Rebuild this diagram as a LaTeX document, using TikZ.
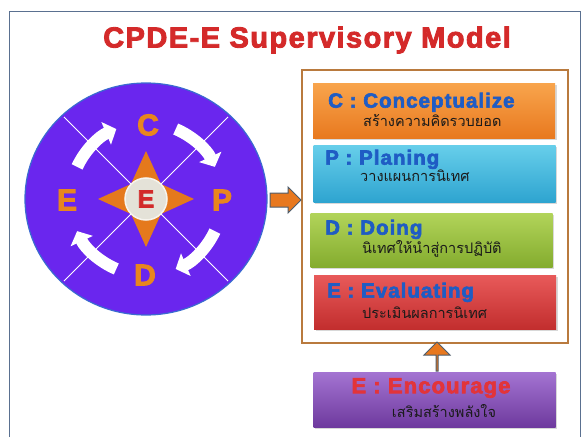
\documentclass[tikz,border=0pt]{standalone}
\usepackage{fontspec}
\setmainfont{Liberation Sans}
\newfontfamily\heavyfont[BoldFeatures={FakeBold=3}, LetterSpace=5]{Liberation Sans}
\newfontfamily\thaifont[Script=Thai]{Loma}
\usetikzlibrary{shapes.geometric,shapes.arrows,arrows.meta,shadows}
\definecolor{framec}{HTML}{5A7090}
\definecolor{titlered}{HTML}{D42A2A}
\definecolor{circfill}{HTML}{6A26EE}
\definecolor{circedge}{HTML}{3A6BD0}
\definecolor{starorange}{HTML}{E5791C}
\definecolor{letterorange}{HTML}{E8861E}
\definecolor{diskfill}{HTML}{E4E2D8}
\definecolor{diskedge}{HTML}{F6F4EE}
\definecolor{ered}{HTML}{D22A2A}
\definecolor{arroworange}{HTML}{E8781E}
\definecolor{arrowgray}{HTML}{4E5D6C}
\definecolor{contc}{HTML}{B97A3E}
\definecolor{ctop}{HTML}{F8A44C}\definecolor{cbot}{HTML}{E8781E}
\definecolor{ptop}{HTML}{66CEEA}\definecolor{pbot}{HTML}{2EA4D0}
\definecolor{dtop}{HTML}{B2D45A}\definecolor{dbot}{HTML}{84AC2E}
\definecolor{etop}{HTML}{E85A5A}\definecolor{ebot}{HTML}{C22E2E}
\definecolor{ntop}{HTML}{A474D2}\definecolor{nbot}{HTML}{6E3A9E}
\definecolor{ttlblue}{HTML}{1F5CC4}
\definecolor{encred}{HTML}{E2343A}
\definecolor{thaitext}{HTML}{1A1A1A}
\begin{document}
\begin{tikzpicture}[x=1pt,y=1pt,
  stagebox/.style={minimum width=242pt, minimum height=55pt, inner sep=0,
    drop shadow={opacity=0.3, shadow xshift=1.5pt, shadow yshift=-1.5pt}},
  ttl/.style={anchor=mid west, inner sep=0, text=ttlblue,
    font=\heavyfont\fontsize{20.5}{20.5}\selectfont\bfseries},
  thai/.style={anchor=mid west, inner sep=0, text=thaitext,
    font=\thaifont\fontsize{14.5}{14.5}\selectfont},
  bigletter/.style={text=letterorange, inner sep=0,
    font=\heavyfont\fontsize{30}{30}\selectfont\bfseries},
  warrow/.style={white, line width=12pt, -{Triangle[width=24pt,length=11pt]}},
  blockarrow/.style={single arrow, fill=arroworange, draw=arrowgray,
    line width=1pt, inner xsep=0pt, inner ysep=6.5pt, minimum width=26pt,
    single arrow head extend=6pt}
]
\useasboundingbox (0,0) rectangle (588,437);
\fill[white] (0,0) rectangle (588,437);
\draw[framec, line width=1pt, fill=white] (9,0) -- (9,425) -- (580,425) -- (580,0);

% title
\node[text=titlered, inner sep=0, font=\heavyfont\fontsize{29}{29}\selectfont\bfseries]
  (title) at (307,397) {CPDE-E Supervisory Model};

% circle
\node[ellipse, minimum width=242pt, minimum height=232pt, inner sep=0,
  fill=circfill, draw=circedge, line width=1.2pt] (circ) at (146,238) {};
\foreach \a in {45,135,225,315}
  \draw[white, line width=0.9pt, shorten >=3pt] (circ.center) -- (circ.\a);

\begin{scope}[shift={(circ.center)}]
  \fill[starorange] (0,48) -- (15,15) -- (48,0) -- (15,-15) -- (0,-48)
    -- (-15,-15) -- (-48,0) -- (-15,15) -- cycle;
  \draw[warrow] (155:76) arc[start angle=155, end angle=113, radius=76];
  \draw[warrow] (67:76) arc[start angle=67, end angle=25, radius=76];
  \draw[warrow] (-25:76) arc[start angle=-25, end angle=-67, radius=76];
  \draw[warrow] (-113:76) arc[start angle=-113, end angle=-155, radius=76];
\end{scope}

\node[circle, fill=diskfill, draw=diskedge, line width=1.5pt, minimum size=42pt,
  inner sep=0, text=ered, font=\heavyfont\fontsize{25}{25}\selectfont\bfseries]
  (disk) at (circ.center) {E};

\node[bigletter] (lc) at ([shift={(2,74)}]circ.center) {C};
\node[bigletter] (le) at ([shift={(-79,-1)}]circ.center) {E};
\node[bigletter] (lp) at ([shift={(76,-1)}]circ.center) {P};
\node[bigletter] (ld) at ([shift={(-1,-76)}]circ.center) {D};

% container
\node[draw=contc, line width=1.2pt, fill=white, minimum width=266pt,
  minimum height=273pt, inner sep=0] (cont) at (435,230.5) {};

% arrow circle -> container
\node[blockarrow, minimum height=31pt] (ra) at (282,237) {};

% stage boxes
\node[stagebox, top color=ctop, bottom color=cbot] (bc) at (434,325.5) {};
\node[stagebox, top color=ptop, bottom color=pbot, minimum height=56pt] (bp) at (434.5,263) {};
\node[stagebox, top color=dtop, bottom color=dbot, minimum height=54pt] (bd) at (431.5,197) {};
\node[stagebox, top color=etop, bottom color=ebot, minimum height=54pt] (be) at (435,135) {};
\node[stagebox, top color=ntop, bottom color=nbot] (bn) at (434.5,37.5) {};

\node[ttl] (tc) at (328,332) {C : Conceptualize};
\node[thai] (hc) at (363,313) {สร้างความคิดรวบยอด};
\node[ttl] (tp) at (325,275) {P : Planing};
\node[thai] (hp) at (360,258) {วางแผนการนิเทศ};
\node[ttl] (td) at (325,205) {D : Doing};
\node[thai] (hd) at (362,186) {นิเทศให้นำสู่การปฏิบัติ};
\node[ttl] (te) at (327,142) {E : Evaluating};
\node[thai] (he) at (362,121) {ประเมินผลการนิเทศ};

\node[inner sep=0, text=encred, font=\heavyfont\fontsize{22}{22}\selectfont\bfseries]
  (tn) at (431,49) {E : Encourage};
\node[inner sep=0, text=thaitext, font=\thaifont\fontsize{14.5}{14.5}\selectfont]
  (hn) at (444,26) {เสริมสร้างพลังใจ};

% arrow encourage -> container
\node[blockarrow, shape border rotate=90, minimum height=29pt] (ua) at (437,80) {};
\end{tikzpicture}
\end{document}
